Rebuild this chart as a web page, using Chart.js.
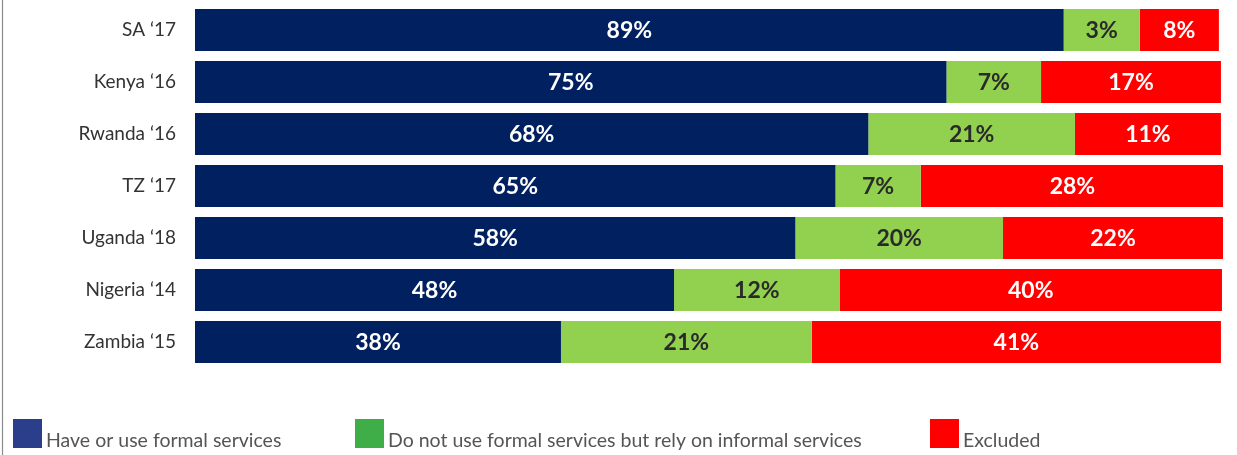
<!DOCTYPE html>
<html lang="en">
<head>
  <meta charset="UTF-8">
  <title>Financial inclusion by country</title>
  <script src="https://cdn.jsdelivr.net/npm/chart.js"></script>
  <style>
    html, body { margin: 0; padding: 0; background: #fff; }
    #wrap { position: relative; width: 1237px; height: 455px; }
  </style>
</head>
<body>
  <div id="wrap"><canvas id="chart"></canvas></div>

  <script>
    // categories (top to bottom)
    const countries = ['SA ‘17', 'Kenya ‘16', 'Rwanda ‘16', 'TZ ‘17', 'Uganda ‘18', 'Nigeria ‘14', 'Zambia ‘15'];

    // bar lengths as drawn in the picture
    const formal   = [84.5, 73.1, 65.5, 62.3, 58.4, 46.6, 35.6];
    const informal = [7.4, 9.2, 20.1, 8.3, 20.2, 16.1, 24.4];
    const excluded = [7.7, 17.5, 14.2, 29.5, 21.4, 37.2, 39.8];

    // printed labels
    const formalLabels   = ['89%', '75%', '68%', '65%', '58%', '48%', '38%'];
    const informalLabels = ['3%', '7%', '21%', '7%', '20%', '12%', '21%'];
    const excludedLabels = ['8%', '17%', '11%', '28%', '22%', '40%', '41%'];

    const seriesNames = ['Have or use formal services', 'Do not use formal services but rely on informal services', 'Excluded'];
    const barColors = ['#002060', '#92d050', '#ff0000'];
    const legendColors = ['#2b3e8c', '#3fae49', '#ff0000'];
    const labelColors = ['#ffffff', '#2a2a2a', '#ffffff'];
    const legendX = [13, 355, 930];

    const FONT = 'Lato, "Open Sans", sans-serif';

    // value labels inside the bars
    const barLabels = {
      id: 'barLabels',
      afterDatasetsDraw(chart) {
        const ctx = chart.ctx;
        ctx.save();
        ctx.font = 'bold 23px ' + FONT;
        ctx.textAlign = 'center';
        ctx.textBaseline = 'middle';
        chart.data.datasets.forEach((ds, i) => {
          const meta = chart.getDatasetMeta(i);
          meta.data.forEach((bar, j) => {
            const left = Math.min(bar.base, bar.x);
            const right = Math.max(bar.base, bar.x);
            ctx.fillStyle = labelColors[i];
            ctx.fillText(ds.printed[j], (left + right) / 2, bar.y + 1);
          });
        });
        ctx.restore();
      }
    };

    // legend at the bottom + left frame line
    const bottomLegend = {
      id: 'bottomLegend',
      afterDraw(chart) {
        const ctx = chart.ctx;
        ctx.save();
        ctx.strokeStyle = '#8a8a8a';
        ctx.lineWidth = 1.2;
        ctx.beginPath();
        ctx.moveTo(2.5, 0);
        ctx.lineTo(2.5, chart.height);
        ctx.stroke();

        ctx.font = '19.5px ' + FONT;
        ctx.textAlign = 'left';
        ctx.textBaseline = 'alphabetic';
        seriesNames.forEach((name, i) => {
          ctx.fillStyle = legendColors[i];
          ctx.fillRect(legendX[i], 419, 29, 29);
          ctx.fillStyle = '#555555';
          ctx.fillText(name, legendX[i] + 33, 447);
        });
        ctx.restore();
      }
    };

    new Chart(document.getElementById('chart'), {
      type: 'bar',
      data: {
        labels: countries,
        datasets: [
          { label: seriesNames[0], data: formal, printed: formalLabels, backgroundColor: barColors[0] },
          { label: seriesNames[1], data: informal, printed: informalLabels, backgroundColor: barColors[1] },
          { label: seriesNames[2], data: excluded, printed: excludedLabels, backgroundColor: barColors[2] }
        ]
      },
      options: {
        indexAxis: 'y',
        responsive: true,
        maintainAspectRatio: false,
        animation: false,
        datasets: {
          bar: { barPercentage: 0.808, categoryPercentage: 1, borderWidth: 0 }
        },
        layout: { padding: { top: 4, bottom: 87, right: 14, left: 0 } },
        scales: {
          x: {
            stacked: true,
            min: 0,
            max: 100,
            display: false
          },
          y: {
            stacked: true,
            grid: { display: false },
            border: { display: false },
            ticks: {
              color: '#333333',
              padding: 11,
              font: { family: FONT, size: 19 }
            },
            afterFit(scale) {
              scale.width = 195;
              scale.paddingTop = 0;
              scale.paddingBottom = 0;
            }
          }
        },
        plugins: {
          legend: { display: false },
          tooltip: { enabled: false }
        }
      },
      plugins: [barLabels, bottomLegend]
    });
  </script>
</body>
</html>
